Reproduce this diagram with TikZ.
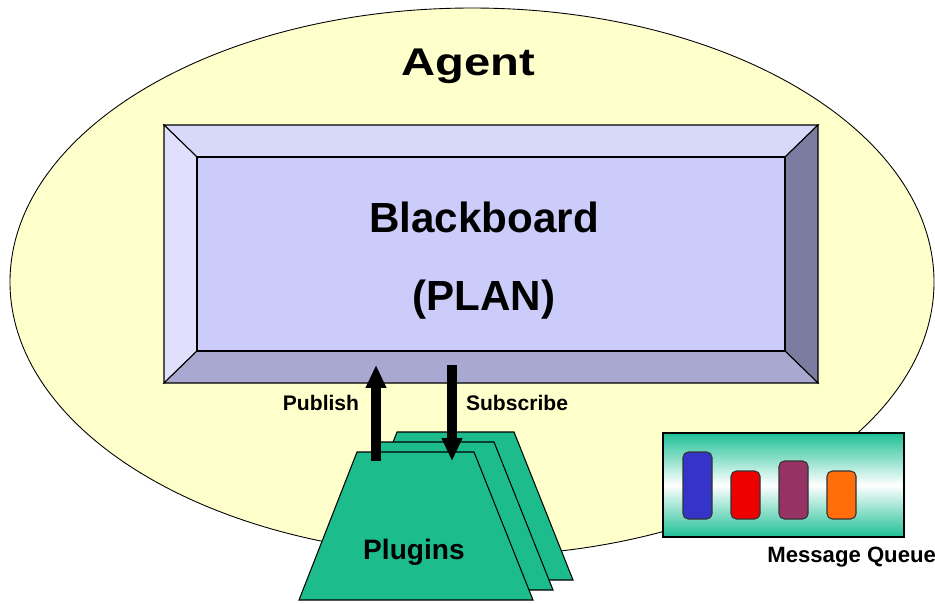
\documentclass[tikz,border=0pt]{standalone}
\usepackage{fontspec}
\setmainfont{Liberation Sans}
\usetikzlibrary{arrows.meta}
\definecolor{agentYellow}{RGB}{255,255,204}
\definecolor{bbFace}{RGB}{204,204,250}
\definecolor{bbTop}{RGB}{216,216,250}
\definecolor{bbLeft}{RGB}{224,224,252}
\definecolor{bbBottom}{RGB}{168,168,208}
\definecolor{bbRight}{RGB}{124,124,160}
\definecolor{pluginGreen}{RGB}{28,188,140}
\definecolor{queueGreen}{RGB}{30,192,150}
\definecolor{qBlue}{RGB}{52,52,200}
\definecolor{qRed}{RGB}{236,0,0}
\definecolor{qPurple}{RGB}{150,50,100}
\definecolor{qOrange}{RGB}{255,110,10}
\tikzset{
    >=Triangle,
    edge/.style={draw=black,line width=0.6pt},
    flow/.style={line width=6pt,-{Triangle[width=11pt,length=13pt]}},
    plugin/.style={edge,fill=pluginGreen},
    msg/.style={draw=black!80,line width=0.6pt,rounded corners=3pt},
    small/.style={font=\bfseries\fontsize{12}{14}\selectfont},
    big/.style={font=\bfseries\fontsize{24}{28}\selectfont,anchor=base}
}

\begin{document}
\begin{tikzpicture}[x=0.02cm,y=-0.02cm]
    \useasboundingbox (0,0) rectangle (935,603);

    % agent
    \filldraw[fill=agentYellow, draw=black, line width=0.5pt] (472,282) ellipse [x radius=462, y radius=274];
    \node[font=\bfseries\fontsize{22}{26}\selectfont] (agent) at (468,66) {\scalebox{1.22}[1]{Agent}};

    % blackboard
    \filldraw[edge, fill=bbTop] (164,125) -- (818,125) -- (785,157) -- (197,157) -- cycle;
    \filldraw[edge, fill=bbLeft] (164,125) -- (197,157) -- (197,351) -- (164,383) -- cycle;
    \filldraw[edge, fill=bbRight] (818,125) -- (818,383) -- (785,351) -- (785,157) -- cycle;
    \filldraw[edge, fill=bbBottom] (164,383) -- (818,383) -- (785,351) -- (197,351) -- cycle;
    \filldraw[edge, fill=bbFace] (197,157) rectangle (785,351);
    \node[big] (board) at (484,232) {Blackboard};
    \node[big] (plan) at (484,310) {(PLAN)};

    % plugins
    \foreach \dx/\dy in {40/-20, 20/-10, 0/0}
        \filldraw[plugin, shift={(\dx,\dy)}] (357,452) -- (474,452) -- (533,600) -- (299,600) -- cycle;
    \node[font=\bfseries\fontsize{16}{18}\selectfont] (plugins) at (414,552) {Plugins};

    \coordinate (pubS) at (376,461);
    \coordinate (pubE) at (376,365);
    \coordinate (subS) at (452,365);
    \coordinate (subE) at (452,461);
    \draw[flow] (pubS) -- (pubE);
    \draw[flow] (subS) -- (subE);
    \node[small] (pub) at (321,403) {Publish};
    \node[small] (sub) at (517,403) {Subscribe};

    % message queue
    \shade[top color=queueGreen, bottom color=queueGreen, middle color=white] (663,433) rectangle (904,537);
    \draw[edge] (663,433) rectangle (904,537);
    \foreach \x/\t/\c in {683/452/qBlue, 731/471/qRed, 779/461/qPurple, 827/471/qOrange}
        \filldraw[msg, fill=\c] (\x,\t) rectangle (\x+29,519);
    \node[font=\bfseries\fontsize{12.6}{14}\selectfont, anchor=west, inner sep=0pt] (queue) at (767,557) {Message Queue};
\end{tikzpicture}
\end{document}
